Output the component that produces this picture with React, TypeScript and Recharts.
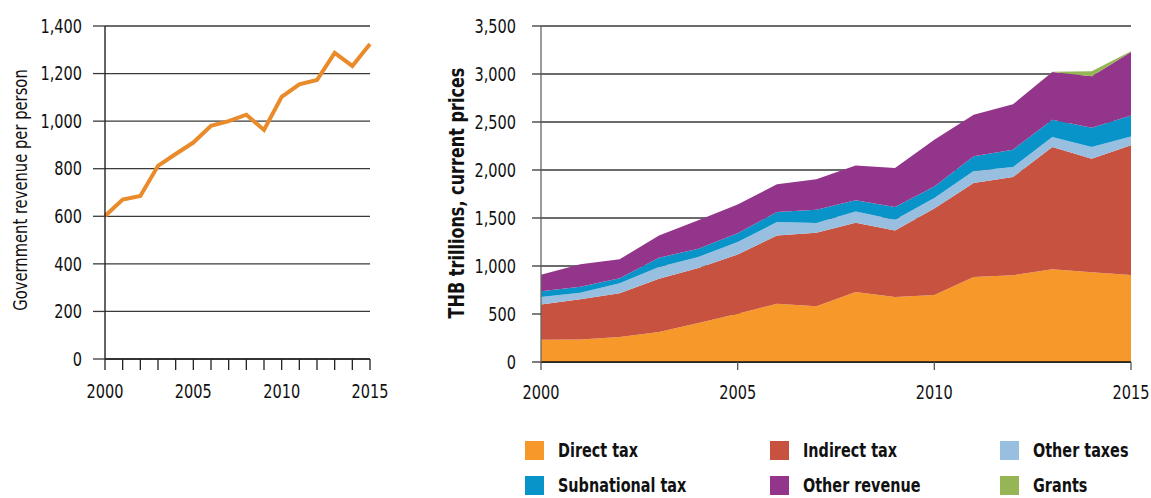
import React from "react";
import {
  LineChart,
  Line,
  AreaChart,
  Area,
  XAxis,
  YAxis,
  CartesianGrid,
} from "recharts";

const years = [
  2000, 2001, 2002, 2003, 2004, 2005, 2006, 2007, 2008, 2009, 2010, 2011, 2012,
  2013, 2014, 2015,
];

// left panel: government revenue per person
const revenuePerPerson = [
  601, 670, 685, 812, 862, 910, 980, 1000, 1027, 963, 1102, 1155, 1173, 1287,
  1232, 1324,
];

// right panel: THB trillions, current prices
const directTax = [
  233, 235, 260, 312, 406, 503, 608, 580, 729, 677, 698, 885, 903, 965, 934, 905,
];
const indirectTax = [
  367, 418, 455, 556, 573, 617, 711, 767, 722, 694, 900, 979, 1024, 1274, 1184,
  1352,
];
const otherTaxes = [
  77, 69, 105, 122, 115, 130, 139, 101, 118, 112, 110, 125, 104, 105, 121, 93,
];
const subnationalTax = [
  59, 63, 52, 97, 86, 92, 104, 138, 115, 131, 120, 153, 181, 180, 202, 219,
];
const otherRevenue = [
  172, 232, 198, 232, 296, 298, 289, 317, 364, 407, 486, 434, 472, 497, 535, 660,
];
const grants = [0, 0, 0, 0, 0, 0, 0, 0, 0, 0, 0, 0, 0, 3, 52, 8];

const leftYTicks = [0, 200, 400, 600, 800, 1000, 1200, 1400];
const rightYTicks = [0, 500, 1000, 1500, 2000, 2500, 3000, 3500];
const labelYears = [2000, 2005, 2010, 2015];

const series = [
  { key: "direct", name: "Direct tax", values: directTax, color: "#F7992A" },
  { key: "indirect", name: "Indirect tax", values: indirectTax, color: "#C6523F" },
  { key: "otherTaxes", name: "Other taxes", values: otherTaxes, color: "#98BFE0" },
  { key: "subnational", name: "Subnational tax", values: subnationalTax, color: "#0994C9" },
  { key: "otherRevenue", name: "Other revenue", values: otherRevenue, color: "#93368B" },
  { key: "grants", name: "Grants", values: grants, color: "#96B655" },
];

const lineData = years.map((year, i) => ({ year, value: revenuePerPerson[i] }));

const areaData = years.map((year, i) => {
  const row: Record<string, number> = { year };
  series.forEach((s) => {
    row[s.key] = s.values[i];
  });
  return row;
});

// no condensed Myriad here, so squeeze DejaVu Condensed a bit more
const FONT = "'DejaVu Sans Condensed', 'DejaVu Sans', sans-serif";
const SQUEEZE = 0.85;

const fmt = (v: number) => v.toLocaleString("en-US");
const yearLabel = (v: number) => (v % 5 === 0 ? String(v) : "");

const CondensedTick = (props: any) => {
  const { x, y, payload, textAnchor, verticalAnchor, format } = props;
  const dy =
    verticalAnchor === "start" ? "0.71em" : verticalAnchor === "end" ? "0" : "0.355em";
  const label = format ? format(payload.value) : String(payload.value);
  return (
    <g transform={`translate(${x},${y})`}>
      <text
        transform={`scale(${SQUEEZE},1)`}
        textAnchor={textAnchor}
        dy={dy}
        fontSize={19}
        fontFamily={FONT}
        fill="#111"
      >
        {label}
      </text>
    </g>
  );
};

// legend layout: 3 columns x 2 rows
const legendCols = [525, 770, 1000];
const legendRows = [441, 476];

export default function App() {
  return (
    <div
      style={{
        position: "absolute",
        left: 0,
        top: 0,
        width: 1151,
        height: 498,
        background: "#fff",
        overflow: "hidden",
        fontFamily: FONT,
      }}
    >
      <div style={{ position: "absolute", left: 0, top: 0 }}>
        <LineChart
          width={400}
          height={420}
          data={lineData}
          margin={{ top: 26, right: 30, bottom: 0, left: 0 }}
        >
          <CartesianGrid vertical={false} stroke="#3a3a3a" strokeWidth={1.3} />
          <XAxis
            dataKey="year"
            type="number"
            domain={[2000, 2015]}
            ticks={years}
            interval={0}
            height={61}
            tickSize={11}
            tickMargin={14}
            axisLine={{ stroke: "#222", strokeWidth: 1.3 }}
            tickLine={{ stroke: "#222", strokeWidth: 1.3 }}
            tick={<CondensedTick format={yearLabel} />}
          />
          <YAxis
            domain={[0, 1400]}
            ticks={leftYTicks}
            width={105}
            tickSize={12}
            tickMargin={11}
            axisLine={{ stroke: "#111", strokeWidth: 1.3 }}
            tickLine={{ stroke: "#3a3a3a", strokeWidth: 1.3 }}
            tick={<CondensedTick format={fmt} />}
          />
          <Line
            type="linear"
            dataKey="value"
            stroke="#EA8B2B"
            strokeWidth={4}
            dot={false}
            isAnimationActive={false}
          />
        </LineChart>
      </div>

      <div
        style={{
          position: "absolute",
          left: 20,
          top: 190,
          transform: "translate(-50%, -50%) rotate(-90deg) scaleX(0.82)",
          whiteSpace: "nowrap",
          fontSize: 20,
          color: "#111",
        }}
      >
        Government revenue per person
      </div>

      <div style={{ position: "absolute", left: 440, top: 0 }}>
        <AreaChart
          width={711}
          height={420}
          data={areaData}
          margin={{ top: 26, right: 20, bottom: 0, left: 0 }}
        >
          <CartesianGrid vertical={false} stroke="#3a3a3a" strokeWidth={1.3} />
          <XAxis
            dataKey="year"
            type="number"
            domain={[2000, 2015]}
            ticks={labelYears}
            interval={0}
            height={58}
            tickSize={8}
            tickMargin={15}
            axisLine={{ stroke: "#111", strokeWidth: 1.3 }}
            tickLine={{ stroke: "#555", strokeWidth: 1.3 }}
            tick={<CondensedTick />}
          />
          <YAxis
            domain={[0, 3500]}
            ticks={rightYTicks}
            width={101}
            tickSize={9}
            tickMargin={16}
            axisLine={{ stroke: "#666", strokeWidth: 1.3 }}
            tickLine={{ stroke: "#3a3a3a", strokeWidth: 1.3 }}
            tick={<CondensedTick format={fmt} />}
          />
          {series.map((s) => (
            <Area
              key={s.key}
              type="linear"
              dataKey={s.key}
              name={s.name}
              stackId="rev"
              stroke="none"
              fill={s.color}
              fillOpacity={1}
              isAnimationActive={false}
            />
          ))}
        </AreaChart>
      </div>

      <div
        style={{
          position: "absolute",
          left: 457,
          top: 193,
          transform: "translate(-50%, -50%) rotate(-90deg) scaleX(0.85)",
          whiteSpace: "nowrap",
          fontSize: 21,
          fontWeight: 700,
          color: "#111",
        }}
      >
        THB trillions, current prices
      </div>

      {series.map((s, i) => {
        const left = legendCols[i % 3];
        const top = legendRows[Math.floor(i / 3)];
        return (
          <div
            key={s.key}
            style={{
              position: "absolute",
              left,
              top,
              height: 19,
              display: "flex",
              alignItems: "center",
              whiteSpace: "nowrap",
            }}
          >
            <span
              style={{
                width: 19,
                height: 19,
                background: s.color,
                display: "inline-block",
                marginRight: 14,
                flex: "none",
              }}
            />
            <span
              style={{
                fontSize: 20,
                lineHeight: "19px",
                fontWeight: 700,
                color: "#111",
                display: "inline-block",
                transform: "scaleX(0.8)",
                transformOrigin: "left center",
              }}
            >
              {s.name}
            </span>
          </div>
        );
      })}
    </div>
  );
}
